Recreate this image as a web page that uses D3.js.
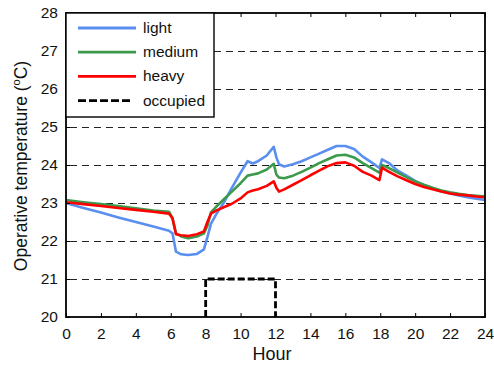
<!DOCTYPE html>
<html><head><meta charset="utf-8">
<script src="https://cdn.jsdelivr.net/npm/d3@7"></script>
<style>body{margin:0;background:#fff}svg{display:block}text{font-family:"Liberation Sans",Arial,sans-serif;fill:#111}</style>
</head><body>
<svg id="c" width="494" height="367"></svg>
<script>
const hours = [0,1,2,3,4,5,5.9,6.1,6.3,6.6,7,7.5,7.9,8.1,8.3,8.6,9,9.5,10,10.4,10.7,11,11.5,11.9,12.05,12.2,12.5,13,13.5,14,14.5,15,15.5,16,16.5,17,17.5,17.95,18.1,18.5,19,19.5,20,20.5,21,21.5,22,22.5,23,23.5,24];
const light = [23.0,22.87,22.75,22.62,22.5,22.38,22.27,22.2,21.72,21.65,21.63,21.66,21.78,22.1,22.45,22.7,22.98,23.4,23.8,24.1,24.04,24.1,24.25,24.48,24.2,24.02,23.96,24.02,24.1,24.2,24.3,24.4,24.5,24.5,24.42,24.22,24.07,23.92,24.15,24.05,23.85,23.72,23.58,23.47,23.38,23.3,23.25,23.2,23.15,23.11,23.08];
const medium = [23.08,23.02,22.97,22.92,22.86,22.8,22.77,22.6,22.2,22.12,22.07,22.12,22.2,22.4,22.75,22.9,23.08,23.3,23.52,23.72,23.75,23.78,23.88,24.03,23.75,23.67,23.65,23.72,23.82,23.93,24.05,24.15,24.25,24.27,24.2,24.05,23.92,23.8,24.0,23.92,23.8,23.68,23.57,23.48,23.4,23.33,23.28,23.24,23.21,23.19,23.17];
const heavy = [23.02,22.97,22.92,22.87,22.82,22.77,22.72,22.6,22.18,22.15,22.13,22.18,22.25,22.5,22.72,22.8,22.88,22.98,23.12,23.28,23.33,23.36,23.45,23.57,23.4,23.3,23.36,23.48,23.6,23.73,23.85,23.97,24.05,24.07,23.98,23.82,23.72,23.6,23.93,23.82,23.7,23.6,23.5,23.42,23.36,23.3,23.25,23.22,23.2,23.17,23.15];
const occHours = [8,8,12,12];
const occValues = [20,21,21,20];
const xTicks = [0,2,4,6,8,10,12,14,16,18,20,22,24];
const yTicks = [20,21,22,23,24,25,26,27,28];
const gridValues = [21,22,23,24,25,26,27];
const seriesNames = ["light","medium","heavy"];
const seriesColors = ["#5a8ff0","#3b9a4c","#ff0000"];

const svg = d3.select("#c");
const L=66,R=485,T=13,B=317;
const x = d3.scaleLinear().domain([0,24]).range([L,R]);
const y = d3.scaleLinear().domain([20,28]).range([B,T]);

// grid
svg.append("g").selectAll("line").data(gridValues).join("line")
  .attr("x1",L).attr("x2",R).attr("y1",d=>Math.round(y(d))+0.5).attr("y2",d=>Math.round(y(d))+0.5)
  .attr("stroke","#222").attr("stroke-width",1).attr("stroke-dasharray","7,5").attr("stroke-dashoffset",-4);

const line = d3.line().x(d=>x(d[0])).y(d=>y(d[1]));
const series = [light,medium,heavy];
series.forEach((s,i)=>{
  svg.append("path").datum(hours.map((h,j)=>[h,s[j]]))
    .attr("d",line).attr("fill","none").attr("stroke",seriesColors[i])
    .attr("stroke-width",2.6).attr("stroke-linejoin","round");
});
svg.append("path").datum(occHours.map((h,j)=>[h,occValues[j]]))
  .attr("d",line).attr("fill","none").attr("stroke","#000")
  .attr("stroke-width",2.8).attr("stroke-dasharray","7,3");

// axes
const ax = svg.append("g").attr("transform",`translate(0,${B})`)
  .call(d3.axisBottom(x).tickValues(xTicks).tickSizeInner(-4).tickSizeOuter(0).tickPadding(8));
const ay = svg.append("g").attr("transform",`translate(${L},0)`)
  .call(d3.axisLeft(y).tickValues(yTicks).tickSizeInner(-4).tickSizeOuter(0).tickPadding(8));
svg.append("g").attr("transform",`translate(0,${T})`)
  .call(d3.axisTop(x).tickValues(xTicks).tickSizeInner(-4).tickSizeOuter(0).tickFormat(""));
svg.append("g").attr("transform",`translate(${R},0)`)
  .call(d3.axisRight(y).tickValues(yTicks).tickSizeInner(-4).tickSizeOuter(0).tickFormat(""));
svg.selectAll(".domain").remove();
svg.selectAll(".tick line").attr("stroke","#000").attr("stroke-width",1);
[ax,ay].forEach(g=>g.selectAll("text").attr("font-size","15.5px").attr("fill","#111").attr("font-family","Liberation Sans, Arial, sans-serif"));
ax.selectAll("text").attr("dy","0.9em");
svg.append("rect").attr("x",L).attr("y",T).attr("width",R-L).attr("height",B-T)
  .attr("fill","none").attr("stroke","#000").attr("stroke-width",1.8);

// legend
const lg = svg.append("g");
lg.append("rect").attr("x",L).attr("y",T).attr("width",148).attr("height",104)
  .attr("fill","#fff").attr("stroke","#000").attr("stroke-width",1.4);
const legNames = seriesNames.concat(["occupied"]);
const legColors = seriesColors.concat(["#000"]);
legNames.forEach((n,i)=>{
  const yy = 28 + i*24.2;
  lg.append("line").attr("x1",78).attr("x2", i===3 ? 130 : 136).attr("y1",yy).attr("y2",yy)
    .attr("stroke",legColors[i]).attr("stroke-width",2.8)
    .attr("stroke-dasharray", i===3 ? "8,3" : null);
  lg.append("text").attr("x",143).attr("y",yy+5).attr("font-size","15.5px").text(n);
});

// axis labels
svg.append("text").attr("x",272).attr("y",360).attr("text-anchor","middle").attr("font-size","18px").text("Hour");
const yl = svg.append("text").attr("transform","translate(27,166) rotate(-90)").attr("text-anchor","middle").attr("font-size","17.5px");
yl.append("tspan").text("Operative temperature (");
yl.append("tspan").attr("font-size","11px").attr("dy","-7").text("o");
yl.append("tspan").attr("dy","7").text("C)");
</script>
</body></html>
